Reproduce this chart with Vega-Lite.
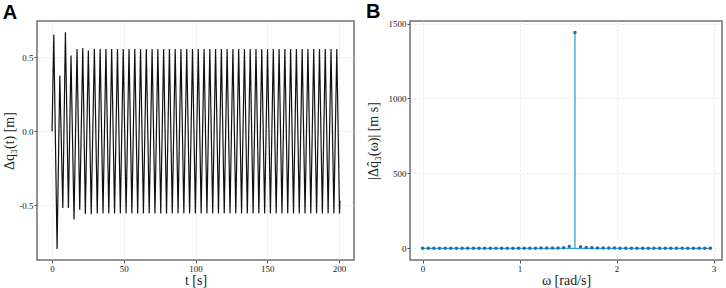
{
  "$schema": "https://vega.github.io/schema/vega-lite/v6.json",
  "background": "white",
  "padding": {"left": 2, "top": 0, "right": 4, "bottom": 0},
  "spacing": 10,
  "datasets": {
    "a": [
      {"t": 0, "q": 0},
      {"t": 1.2, "q": 0.653},
      {"t": 3.5, "q": -0.795},
      {"t": 5.4, "q": 0.376},
      {"t": 7.5, "q": -0.518},
      {"t": 9.3, "q": 0.669},
      {"t": 11.4, "q": -0.518},
      {"t": 13.2, "q": 0.511},
      {"t": 15.3, "q": -0.597},
      {"t": 17.4, "q": 0.556},
      {"t": 19.3, "q": -0.53},
      {"t": 21.4, "q": 0.563},
      {"t": 23.2, "q": -0.559},
      {"t": 25.3, "q": 0.545},
      {"t": 27.3, "q": -0.56},
      {"t": 29.5, "q": 0.558},
      {"t": 31.51, "q": -0.555},
      {"t": 33.52, "q": 0.555},
      {"t": 35.53, "q": -0.555},
      {"t": 37.55, "q": 0.555},
      {"t": 39.56, "q": -0.555},
      {"t": 41.57, "q": 0.555},
      {"t": 43.58, "q": -0.555},
      {"t": 45.6, "q": 0.555},
      {"t": 47.61, "q": -0.555},
      {"t": 49.62, "q": 0.555},
      {"t": 51.63, "q": -0.555},
      {"t": 53.64, "q": 0.555},
      {"t": 55.65, "q": -0.555},
      {"t": 57.67, "q": 0.555},
      {"t": 59.68, "q": -0.555},
      {"t": 61.69, "q": 0.555},
      {"t": 63.7, "q": -0.555},
      {"t": 65.72, "q": 0.555},
      {"t": 67.73, "q": -0.555},
      {"t": 69.74, "q": 0.555},
      {"t": 71.75, "q": -0.555},
      {"t": 73.76, "q": 0.555},
      {"t": 75.77, "q": -0.555},
      {"t": 77.79, "q": 0.555},
      {"t": 79.8, "q": -0.555},
      {"t": 81.81, "q": 0.555},
      {"t": 83.82, "q": -0.555},
      {"t": 85.84, "q": 0.555},
      {"t": 87.85, "q": -0.555},
      {"t": 89.86, "q": 0.555},
      {"t": 91.87, "q": -0.555},
      {"t": 93.88, "q": 0.555},
      {"t": 95.89, "q": -0.555},
      {"t": 97.91, "q": 0.555},
      {"t": 99.92, "q": -0.555},
      {"t": 101.93, "q": 0.555},
      {"t": 103.94, "q": -0.555},
      {"t": 105.96, "q": 0.555},
      {"t": 107.97, "q": -0.555},
      {"t": 109.98, "q": 0.555},
      {"t": 111.99, "q": -0.555},
      {"t": 114.0, "q": 0.555},
      {"t": 116.01, "q": -0.555},
      {"t": 118.03, "q": 0.555},
      {"t": 120.04, "q": -0.555},
      {"t": 122.05, "q": 0.555},
      {"t": 124.06, "q": -0.555},
      {"t": 126.08, "q": 0.555},
      {"t": 128.09, "q": -0.555},
      {"t": 130.1, "q": 0.555},
      {"t": 132.11, "q": -0.555},
      {"t": 134.12, "q": 0.555},
      {"t": 136.13, "q": -0.555},
      {"t": 138.15, "q": 0.555},
      {"t": 140.16, "q": -0.555},
      {"t": 142.17, "q": 0.555},
      {"t": 144.18, "q": -0.555},
      {"t": 146.2, "q": 0.555},
      {"t": 148.21, "q": -0.555},
      {"t": 150.22, "q": 0.555},
      {"t": 152.23, "q": -0.555},
      {"t": 154.24, "q": 0.555},
      {"t": 156.25, "q": -0.555},
      {"t": 158.27, "q": 0.555},
      {"t": 160.28, "q": -0.555},
      {"t": 162.29, "q": 0.555},
      {"t": 164.3, "q": -0.555},
      {"t": 166.32, "q": 0.555},
      {"t": 168.33, "q": -0.555},
      {"t": 170.34, "q": 0.555},
      {"t": 172.35, "q": -0.555},
      {"t": 174.36, "q": 0.555},
      {"t": 176.37, "q": -0.555},
      {"t": 178.39, "q": 0.555},
      {"t": 180.4, "q": -0.555},
      {"t": 182.41, "q": 0.555},
      {"t": 184.42, "q": -0.555},
      {"t": 186.44, "q": 0.555},
      {"t": 188.45, "q": -0.555},
      {"t": 190.46, "q": 0.555},
      {"t": 192.47, "q": -0.555},
      {"t": 194.48, "q": 0.555},
      {"t": 196.49, "q": -0.555},
      {"t": 198.51, "q": 0.555},
      {"t": 200.4, "q": -0.555},
      {"t": 200.7, "q": -0.47}
    ],
    "b": [
      {"omega": 0.0, "amp": 1},
      {"omega": 0.0582, "amp": 1},
      {"omega": 0.1164, "amp": 1},
      {"omega": 0.1745, "amp": 1},
      {"omega": 0.2327, "amp": 1},
      {"omega": 0.2909, "amp": 1},
      {"omega": 0.3491, "amp": 1},
      {"omega": 0.4072, "amp": 1},
      {"omega": 0.4654, "amp": 1},
      {"omega": 0.5236, "amp": 1},
      {"omega": 0.5818, "amp": 1},
      {"omega": 0.64, "amp": 1},
      {"omega": 0.6981, "amp": 1},
      {"omega": 0.7563, "amp": 1},
      {"omega": 0.8145, "amp": 1},
      {"omega": 0.8727, "amp": 1},
      {"omega": 0.9308, "amp": 1},
      {"omega": 0.989, "amp": 1},
      {"omega": 1.0472, "amp": 1},
      {"omega": 1.1054, "amp": 1},
      {"omega": 1.1636, "amp": 1},
      {"omega": 1.2217, "amp": 1.5},
      {"omega": 1.2799, "amp": 1.5},
      {"omega": 1.3381, "amp": 2},
      {"omega": 1.3963, "amp": 2.5},
      {"omega": 1.4544, "amp": 4},
      {"omega": 1.5126, "amp": 13},
      {"omega": 1.5708, "amp": 1440},
      {"omega": 1.629, "amp": 11},
      {"omega": 1.6872, "amp": 6},
      {"omega": 1.7453, "amp": 3.5},
      {"omega": 1.8035, "amp": 2.5},
      {"omega": 1.8617, "amp": 2},
      {"omega": 1.9199, "amp": 1.5},
      {"omega": 1.978, "amp": 1.5},
      {"omega": 2.0362, "amp": 1},
      {"omega": 2.0944, "amp": 1},
      {"omega": 2.1526, "amp": 1},
      {"omega": 2.2108, "amp": 1},
      {"omega": 2.2689, "amp": 1},
      {"omega": 2.3271, "amp": 1},
      {"omega": 2.3853, "amp": 1},
      {"omega": 2.4435, "amp": 1},
      {"omega": 2.5016, "amp": 1},
      {"omega": 2.5598, "amp": 1},
      {"omega": 2.618, "amp": 1},
      {"omega": 2.6762, "amp": 1},
      {"omega": 2.7344, "amp": 1},
      {"omega": 2.7925, "amp": 1},
      {"omega": 2.8507, "amp": 1},
      {"omega": 2.9089, "amp": 1},
      {"omega": 2.9671, "amp": 1}
    ]
  },
  "config": {
    "view": {"stroke": "#707070", "strokeWidth": 1.5},
    "axis": {
      "domain": false,
      "grid": true,
      "gridColor": "#e2e2e2",
      "gridDash": [2, 2],
      "gridWidth": 0.8,
      "tickColor": "#555555",
      "tickSize": 3,
      "labelFont": "Liberation Serif",
      "labelFontSize": 9,
      "labelColor": "#222222",
      "labelPadding": 1,
      "titleFont": "Liberation Serif",
      "titleFontSize": 14,
      "titleFontWeight": "normal",
      "titleColor": "#222222"
    },
    "title": {
      "font": "Liberation Sans",
      "fontSize": 20,
      "fontWeight": "bold",
      "color": "#000000",
      "anchor": "start",
      "frame": "bounds",
      "offset": -2
    }
  },
  "hconcat": [
    {
      "title": "A",
      "width": 317,
      "height": 239,
      "data": {"name": "a"},
      "mark": {"type": "line", "color": "#111111", "strokeWidth": 1.2},
      "encoding": {
        "x": {
          "field": "t", "type": "quantitative",
          "scale": {"domain": [-10.5, 210.5], "nice": false, "zero": false},
          "axis": {"values": [0, 50, 100, 150, 200], "title": "t [s]", "titlePadding": 0}
        },
        "y": {
          "field": "q", "type": "quantitative",
          "scale": {"domain": [-0.87, 0.745], "nice": false, "zero": false},
          "axis": {
            "values": [-0.5, 0, 0.5],
            "labelExpr": "datum.value < 0 ? '-' + format(-datum.value, '.1f') : format(datum.value, '.1f')",
            "title": "Δq₃(t) [m]",
            "titlePadding": 2
          }
        }
      }
    },
    {
      "title": "B",
      "width": 312,
      "height": 239,
      "data": {"name": "b"},
      "encoding": {
        "x": {
          "field": "omega", "type": "quantitative",
          "scale": {"domain": [-0.13, 3.087], "nice": false, "zero": false},
          "axis": {"values": [0, 1, 2, 3], "title": "ω [rad/s]", "titlePadding": 0}
        }
      },
      "layer": [
        {
          "mark": {"type": "line", "color": "#3a9fd6", "strokeWidth": 1.2},
          "encoding": {
            "y": {
              "datum": 0, "type": "quantitative",
              "scale": {"domain": [-78, 1517], "nice": false, "zero": false},
              "axis": {"values": [0, 500, 1000, 1500], "format": "d", "title": "|Δq̂₃(ω)| [m s]", "titlePadding": 8}
            }
          }
        },
        {
          "mark": {"type": "rule", "color": "#3a9fd6", "strokeWidth": 1.3},
          "encoding": {
            "y": {"field": "amp", "type": "quantitative"},
            "y2": {"datum": 0}
          }
        },
        {
          "mark": {"type": "point", "filled": true, "size": 12, "opacity": 1, "color": "#1570b0"},
          "encoding": {
            "y": {"field": "amp", "type": "quantitative"}
          }
        }
      ]
    }
  ]
}
